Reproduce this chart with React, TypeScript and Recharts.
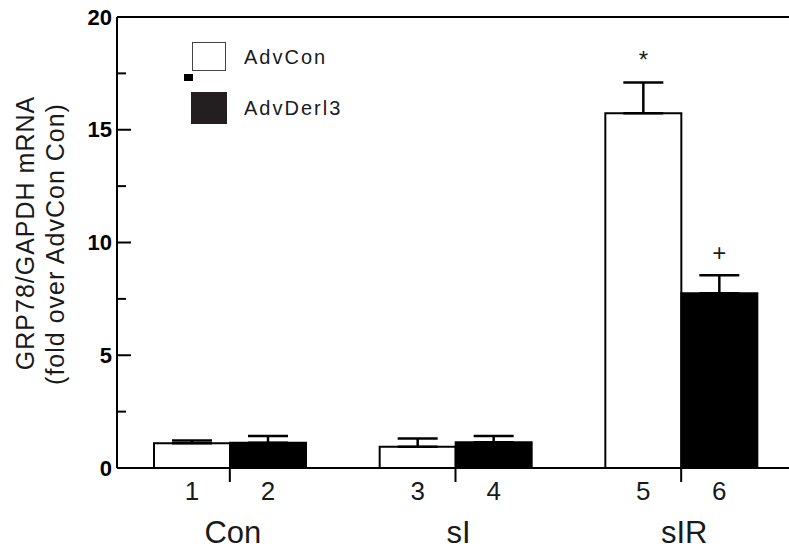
import React from "react";
import {
  BarChart,
  Bar,
  XAxis,
  YAxis,
  ErrorBar,
  LabelList,
  Legend,
  ReferenceLine,
} from "recharts";

const groups = ["Con", "sI", "sIR"];
const advConMean = [1.1, 0.94, 15.73];
const advConSem = [0.12, 0.37, 1.37];
const advDerl3Mean = [1.12, 1.14, 7.75];
const advDerl3Sem = [0.3, 0.28, 0.8];
const advConLanes = ["1", "3", "5"];
const advDerl3Lanes = ["2", "4", "6"];
const advConMarks = ["", "", "*"];
const advDerl3Marks = ["", "", "+"];
const yTicks = [0, 2.5, 5, 7.5, 10, 12.5, 15, 17.5, 20];

const data = groups.map((g, i) => ({
  group: g,
  advCon: advConMean[i],
  advConErr: [0, advConSem[i]],
  advConLane: advConLanes[i],
  advDerl3: advDerl3Mean[i],
  advDerl3Err: [0, advDerl3Sem[i]],
  advDerl3Lane: advDerl3Lanes[i],
}));

const FONT = "'Liberation Sans', Arial, Helvetica, sans-serif";
const INK = "#1a1a1a";

function LeftTick({ x, y, payload }: any) {
  const major = payload.value % 5 === 0;
  return (
    <g>
      <line x1={x} x2={x + (major ? 14 : 9)} y1={y} y2={y} stroke="#000" strokeWidth={2} />
      {major && (
        <text
          x={x - 5}
          y={y}
          textAnchor="end"
          dominantBaseline="central"
          fontFamily={FONT}
          fontWeight="bold"
          fontSize={22}
          fill="#000"
        >
          {payload.value}
        </text>
      )}
    </g>
  );
}

function RightTick({ x, y, payload }: any) {
  const major = payload.value % 5 === 0;
  return <line x1={x} x2={x - (major ? 14 : 9)} y1={y} y2={y} stroke="#000" strokeWidth={2} />;
}

function GroupTick({ x, y, payload }: any) {
  return (
    <text x={x + 3} y={y + 48} textAnchor="middle" dominantBaseline="central" fontFamily={FONT} fontSize={31} fill={INK}>
      {payload.value}
    </text>
  );
}

const sigLabel = (marks: string[], means: number[], sems: number[]) => (props: any) => {
  const vb = props.viewBox || props;
  const { x, y, width, height } = vb;
  const i = props.index;
  const m = marks[i];
  if (!m) return null;
  const pxPerUnit = height / means[i];
  const top = y - sems[i] * pxPerUnit;
  return (
    <text x={x + width / 2} y={top - 14} textAnchor="middle" fontFamily={FONT} fontSize={24} fill={INK}>
      {m}
    </text>
  );
};

function LegendBox() {
  return (
    <svg width={200} height={100} style={{ display: "block" }}>
      <rect x={12.5} y={7.5} width={33} height={28} fill="#fff" stroke="#444" strokeWidth={1} />
      <rect x={4} y={39} width={9} height={7} fill="#000" />
      <rect x={11} y={57} width={36} height={32} fill="#231f20" />
      <text x={64} y={22} dominantBaseline="central" fontFamily={FONT} fontSize={20} letterSpacing={2} fill={INK}>
        AdvCon
      </text>
      <text x={64} y={73} dominantBaseline="central" fontFamily={FONT} fontSize={20} letterSpacing={2} fill={INK}>
        AdvDerl3
      </text>
    </svg>
  );
}

function YTitle() {
  return (
    <g fontFamily={FONT} fontSize={25} fill={INK} letterSpacing={1}>
      <text x={25} y={233} transform="rotate(-90 25 233)" textAnchor="middle" dominantBaseline="central">
        GRP78/GAPDH mRNA
      </text>
      <text x={55} y={244} transform="rotate(-90 55 244)" textAnchor="middle" dominantBaseline="central">
        (fold over AdvCon Con)
      </text>
    </g>
  );
}

export default function App() {
  return (
    <div
      style={{
        position: "fixed",
        left: 0,
        top: 0,
        width: 789,
        height: 557,
        overflow: "hidden",
        background: "#fff",
      }}
    >
      <BarChart
        width={800}
        height={557}
        data={data}
        margin={{ top: 17, right: 4, bottom: 29, left: 57 }}
        barCategoryGap={37}
        barGap={0}
      >
        <XAxis
          dataKey="group"
          axisLine={{ stroke: "#000", strokeWidth: 2 }}
          tickLine={{ stroke: "#000", strokeWidth: 2 }}
          tickSize={14}
          tickMargin={2}
          height={60}
          tick={<GroupTick />}
        />
        <YAxis
          yAxisId="left"
          domain={[0, 20]}
          ticks={yTicks}
          width={60}
          tickSize={0}
          tickMargin={0}
          tickLine={false}
          axisLine={{ stroke: "#000", strokeWidth: 2 }}
          tick={<LeftTick />}
          label={{ content: () => <YTitle /> }}
        />
        <YAxis
          yAxisId="right"
          orientation="right"
          domain={[0, 20]}
          ticks={yTicks}
          width={2}
          tickSize={0}
          tickMargin={0}
          tickLine={false}
          axisLine={{ stroke: "#000", strokeWidth: 2 }}
          tick={<RightTick />}
        />
        <ReferenceLine yAxisId="left" y={20} stroke="#000" strokeWidth={2} />
        <Legend
          layout="horizontal"
          verticalAlign="middle"
          align="center"
          wrapperStyle={{ position: "absolute", left: 180, top: 35, width: 200, height: 100 }}
          content={() => <LegendBox />}
        />
        <Bar
          yAxisId="left"
          dataKey="advCon"
          fill="#fff"
          stroke="#000"
          strokeWidth={2}
          isAnimationActive={false}
        >
          <ErrorBar dataKey="advConErr" width={20} stroke="#000" strokeWidth={2.5} direction="y" />
          <LabelList
            dataKey="advConLane"
            position="bottom"
            offset={14}
            fontFamily={FONT}
            fontSize={26}
            fill={INK}
          />
          <LabelList dataKey="advCon" content={sigLabel(advConMarks, advConMean, advConSem)} />
        </Bar>
        <Bar
          yAxisId="left"
          dataKey="advDerl3"
          fill="#000"
          stroke="#000"
          strokeWidth={2}
          isAnimationActive={false}
        >
          <ErrorBar dataKey="advDerl3Err" width={20} stroke="#000" strokeWidth={2.5} direction="y" />
          <LabelList
            dataKey="advDerl3Lane"
            position="bottom"
            offset={14}
            fontFamily={FONT}
            fontSize={26}
            fill={INK}
          />
          <LabelList dataKey="advDerl3" content={sigLabel(advDerl3Marks, advDerl3Mean, advDerl3Sem)} />
        </Bar>
      </BarChart>
    </div>
  );
}
